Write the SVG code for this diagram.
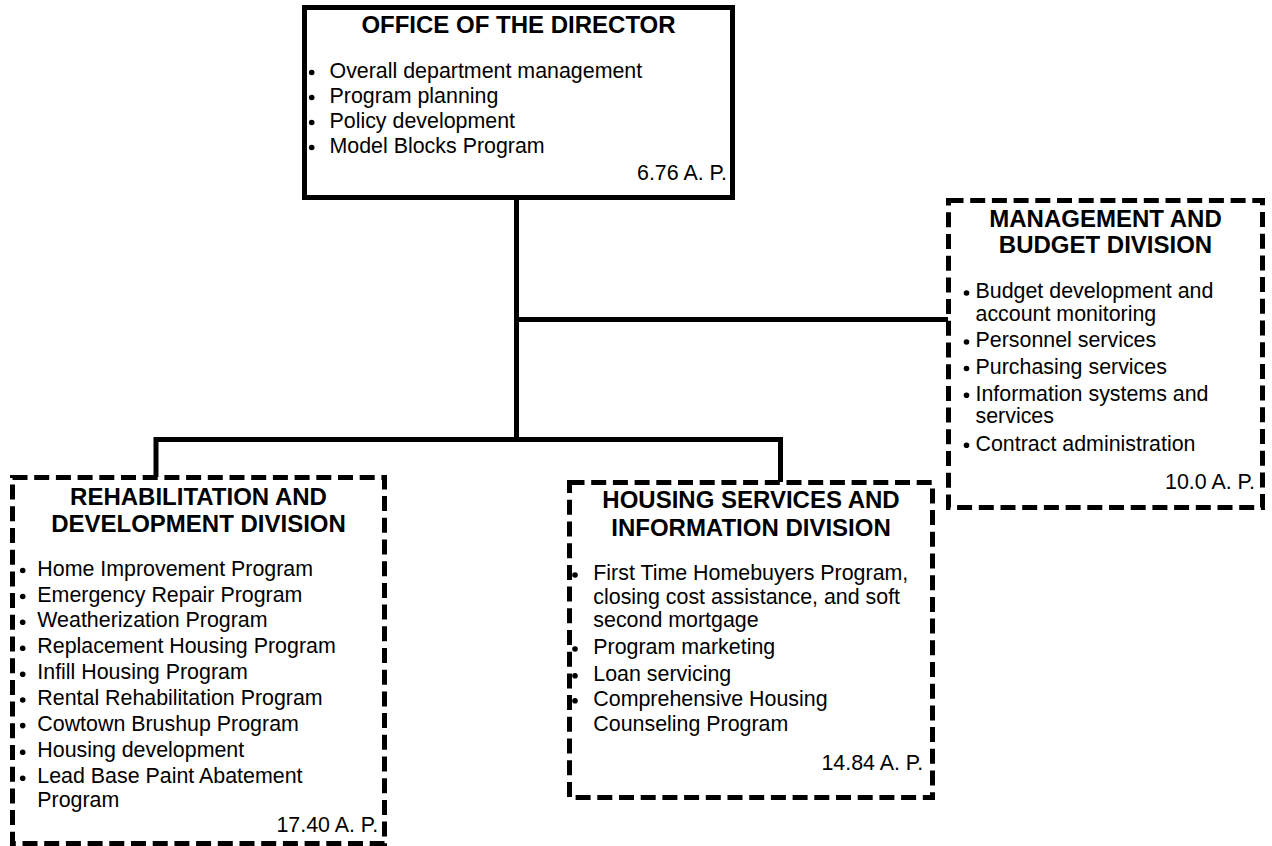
<svg xmlns="http://www.w3.org/2000/svg" width="1272" height="846" viewBox="0 0 1272 846">
  <style>
    .box { fill: #ffffff; stroke: #000000; stroke-width: 5; }
    .dashed { stroke-dasharray: 15 6.7; }
    .title { font-family: "Liberation Sans", Arial, sans-serif; font-weight: bold; font-size: 24px; text-anchor: middle; fill: #000000; }
    .item { font-family: "Liberation Sans", Arial, sans-serif; font-size: 21.4px; fill: #000000; }
    .ap { font-family: "Liberation Sans", Arial, sans-serif; font-size: 21.4px; text-anchor: end; fill: #000000; }
    .dot { fill: #000000; }
    .wire { fill: none; stroke: #000000; stroke-width: 5; stroke-linejoin: miter; }
  </style>

  <rect width="1272" height="846" fill="#ffffff"/>

  <!-- reporting lines -->
  <g id="connectors">
    <path class="wire" d="M516.5 200 V439.5"/>
    <path class="wire" d="M516.5 319.5 H948"/>
    <path class="wire" d="M156 477 V439.5 H780.5 V482"/>
  </g>

  <!-- top box -->
  <g id="office-of-the-director">
    <rect class="box" x="304.5" y="7.5" width="428" height="190"/>
    <text class="title" x="518.5" y="33">OFFICE OF THE DIRECTOR</text>
    <circle class="dot" cx="311.7" cy="72.5" r="2.8"/>
    <circle class="dot" cx="311.7" cy="97.5" r="2.8"/>
    <circle class="dot" cx="311.7" cy="122.5" r="2.8"/>
    <circle class="dot" cx="311.7" cy="147.5" r="2.8"/>
    <text class="item" x="329.5" y="78">Overall department management</text>
    <text class="item" x="329.5" y="103">Program planning</text>
    <text class="item" x="329.5" y="128">Policy development</text>
    <text class="item" x="329.5" y="153">Model Blocks Program</text>
    <text class="ap" x="727" y="180">6.76 A. P.</text>
  </g>

  <!-- right-hand staff division -->
  <g id="management-and-budget">
    <rect class="box dashed" x="948.5" y="200.5" width="314" height="307"/>
    <text class="title" x="1105.5" y="226.7">MANAGEMENT AND</text>
    <text class="title" x="1105.5" y="253.3">BUDGET DIVISION</text>
    <circle class="dot" cx="966.5" cy="293" r="2.8"/>
    <circle class="dot" cx="966.5" cy="342" r="2.8"/>
    <circle class="dot" cx="966.5" cy="368.5" r="2.8"/>
    <circle class="dot" cx="966.5" cy="395.3" r="2.8"/>
    <circle class="dot" cx="966.5" cy="445.3" r="2.8"/>
    <text class="item" x="975.5" y="298.3">Budget development and</text>
    <text class="item" x="975.5" y="320.5">account monitoring</text>
    <text class="item" x="975.5" y="347.3">Personnel services</text>
    <text class="item" x="975.5" y="374">Purchasing services</text>
    <text class="item" x="975.5" y="400.7">Information systems and</text>
    <text class="item" x="975.5" y="423.3">services</text>
    <text class="item" x="975.5" y="450.7">Contract administration</text>
    <text class="ap" x="1255" y="489">10.0 A. P.</text>
  </g>

  <!-- left division -->
  <g id="rehabilitation-and-development">
    <rect class="box dashed" x="12.5" y="477.5" width="372" height="366"/>
    <text class="title" x="198.5" y="505">REHABILITATION AND</text>
    <text class="title" x="198.5" y="532">DEVELOPMENT DIVISION</text>
    <circle class="dot" cx="22.7" cy="570.5" r="2.8"/>
    <circle class="dot" cx="22.7" cy="596.5" r="2.8"/>
    <circle class="dot" cx="22.7" cy="622.2" r="2.8"/>
    <circle class="dot" cx="22.7" cy="648.2" r="2.8"/>
    <circle class="dot" cx="22.7" cy="674.2" r="2.8"/>
    <circle class="dot" cx="22.7" cy="700" r="2.8"/>
    <circle class="dot" cx="22.7" cy="725.6" r="2.8"/>
    <circle class="dot" cx="22.7" cy="752.2" r="2.8"/>
    <circle class="dot" cx="22.7" cy="778.2" r="2.8"/>
    <text class="item" x="37.3" y="575.7">Home Improvement Program</text>
    <text class="item" x="37.3" y="601.7">Emergency Repair Program</text>
    <text class="item" x="37.3" y="627.3">Weatherization Program</text>
    <text class="item" x="37.3" y="653.3">Replacement Housing Program</text>
    <text class="item" x="37.3" y="679.3">Infill Housing Program</text>
    <text class="item" x="37.3" y="705">Rental Rehabilitation Program</text>
    <text class="item" x="37.3" y="730.7">Cowtown Brushup Program</text>
    <text class="item" x="37.3" y="757.3">Housing development</text>
    <text class="item" x="37.3" y="783.3">Lead Base Paint Abatement</text>
    <text class="item" x="37.3" y="807.3">Program</text>
    <text class="ap" x="378.3" y="831.7">17.40 A. P.</text>
  </g>

  <!-- middle division -->
  <g id="housing-services-and-information">
    <rect class="box dashed" x="569.5" y="482.5" width="363" height="315"/>
    <text class="title" x="751" y="508.3">HOUSING SERVICES AND</text>
    <text class="title" x="751" y="536">INFORMATION DIVISION</text>
    <circle class="dot" cx="575" cy="575" r="2.8"/>
    <circle class="dot" cx="575" cy="649" r="2.8"/>
    <circle class="dot" cx="575" cy="675.7" r="2.8"/>
    <circle class="dot" cx="575" cy="700.7" r="2.8"/>
    <text class="item" x="593.3" y="580">First Time Homebuyers Program,</text>
    <text class="item" x="593.3" y="604">closing cost assistance, and soft</text>
    <text class="item" x="593.3" y="627.3">second mortgage</text>
    <text class="item" x="593.3" y="654">Program marketing</text>
    <text class="item" x="593.3" y="680.7">Loan servicing</text>
    <text class="item" x="593.3" y="705.7">Comprehensive Housing</text>
    <text class="item" x="593.3" y="730.7">Counseling Program</text>
    <text class="ap" x="923.3" y="770">14.84 A. P.</text>
  </g>
</svg>
